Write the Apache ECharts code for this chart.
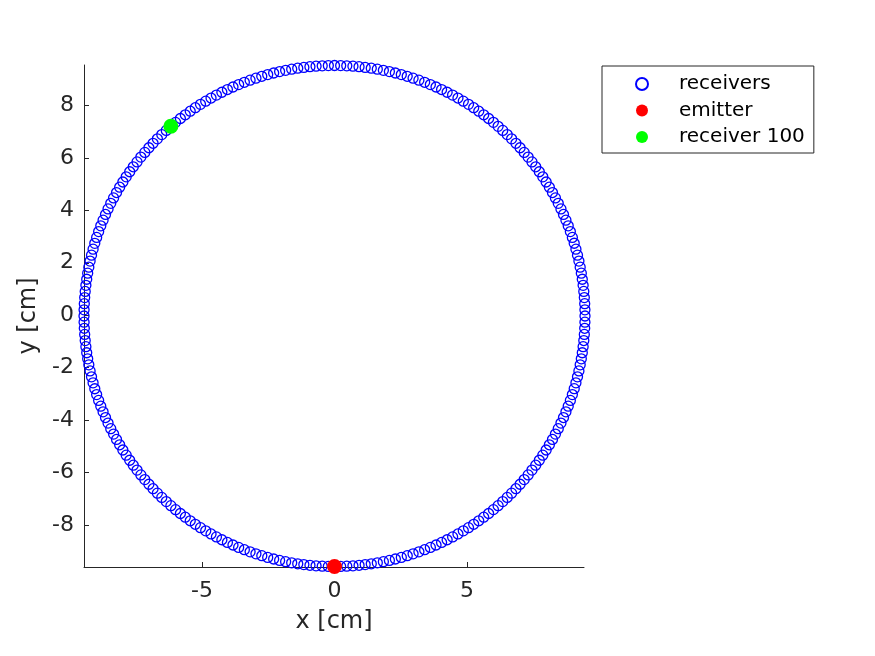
<!DOCTYPE html>
<html>
<head>
<meta charset="utf-8">
<script src="https://cdn.jsdelivr.net/npm/echarts@6/dist/echarts.min.js"></script>
<style>
  html, body { margin: 0; padding: 0; background: #fff; }
  #chart { width: 875px; height: 656px; }
</style>
</head>
<body>
<div id="chart"></div>
<script>
// receiver ring: radius in cm, angle in degrees (0 = +x, counter-clockwise)
const receiverRadius = 9.5;
const receiverAngles = [
  0, 1.41, 2.81, 4.22, 5.63, 7.03, 8.44, 9.84,
  11.25, 12.66, 14.06, 15.47, 16.88, 18.28, 19.69, 21.09,
  22.5, 23.91, 25.31, 26.72, 28.13, 29.53, 30.94, 32.34,
  33.75, 35.16, 36.56, 37.97, 39.38, 40.78, 42.19, 43.59,
  45, 46.41, 47.81, 49.22, 50.63, 52.03, 53.44, 54.84,
  56.25, 57.66, 59.06, 60.47, 61.88, 63.28, 64.69, 66.09,
  67.5, 68.91, 70.31, 71.72, 73.13, 74.53, 75.94, 77.34,
  78.75, 80.16, 81.56, 82.97, 84.38, 85.78, 87.19, 88.59,
  90, 91.41, 92.81, 94.22, 95.63, 97.03, 98.44, 99.84,
  101.25, 102.66, 104.06, 105.47, 106.88, 108.28, 109.69, 111.09,
  112.5, 113.91, 115.31, 116.72, 118.13, 119.53, 120.94, 122.34,
  123.75, 125.16, 126.56, 127.97, 129.38, 130.78, 132.19, 133.59,
  135, 136.41, 137.81, 139.22, 140.63, 142.03, 143.44, 144.84,
  146.25, 147.66, 149.06, 150.47, 151.88, 153.28, 154.69, 156.09,
  157.5, 158.91, 160.31, 161.72, 163.13, 164.53, 165.94, 167.34,
  168.75, 170.16, 171.56, 172.97, 174.38, 175.78, 177.19, 178.59,
  180, 181.41, 182.81, 184.22, 185.63, 187.03, 188.44, 189.84,
  191.25, 192.66, 194.06, 195.47, 196.88, 198.28, 199.69, 201.09,
  202.5, 203.91, 205.31, 206.72, 208.13, 209.53, 210.94, 212.34,
  213.75, 215.16, 216.56, 217.97, 219.38, 220.78, 222.19, 223.59,
  225, 226.41, 227.81, 229.22, 230.63, 232.03, 233.44, 234.84,
  236.25, 237.66, 239.06, 240.47, 241.88, 243.28, 244.69, 246.09,
  247.5, 248.91, 250.31, 251.72, 253.13, 254.53, 255.94, 257.34,
  258.75, 260.16, 261.56, 262.97, 264.38, 265.78, 267.19, 268.59,
  270, 271.41, 272.81, 274.22, 275.63, 277.03, 278.44, 279.84,
  281.25, 282.66, 284.06, 285.47, 286.88, 288.28, 289.69, 291.09,
  292.5, 293.91, 295.31, 296.72, 298.13, 299.53, 300.94, 302.34,
  303.75, 305.16, 306.56, 307.97, 309.38, 310.78, 312.19, 313.59,
  315, 316.41, 317.81, 319.22, 320.63, 322.03, 323.44, 324.84,
  326.25, 327.66, 329.06, 330.47, 331.88, 333.28, 334.69, 336.09,
  337.5, 338.91, 340.31, 341.72, 343.13, 344.53, 345.94, 347.34,
  348.75, 350.16, 351.56, 352.97, 354.38, 355.78, 357.19, 358.59
];
const emitterPoint = [9.5, 270];
const receiver100Point = [9.5, 130.78];

const xTicks = [-5, 0, 5];
const yTicks = [-8, -6, -4, -2, 0, 2, 4, 6, 8];
const seriesNames = ['receivers', 'emitter', 'receiver 100'];

const axisColor = '#262626';
const font = 'DejaVu Sans';

const myChart = echarts.init(document.getElementById('chart'), null, { renderer: 'canvas' });

const option = {
  animation: false,
  textStyle: { fontFamily: font },
  grid: {
    left: 84,
    top: 65,
    right: 291,
    bottom: 89,
    containLabel: false,
    outerBoundsMode: 'none'
  },
  xAxis: {
    type: 'value',
    min: -9.45,
    max: 9.42,
    name: 'x [cm]',
    nameLocation: 'middle',
    nameGap: 43,
    nameTextStyle: { fontSize: 24, color: axisColor, fontFamily: font },
    axisLine: { show: true, onZero: false, lineStyle: { color: axisColor, width: 1 } },
    axisTick: { show: true, inside: true, length: 5, customValues: xTicks, lineStyle: { color: axisColor } },
    axisLabel: { customValues: xTicks, fontSize: 22, color: axisColor, margin: 13, fontFamily: font },
    splitLine: { show: false }
  },
  yAxis: {
    type: 'value',
    min: -9.6,
    max: 9.54,
    name: 'y [cm]',
    nameLocation: 'middle',
    nameGap: 36,
    nameTextStyle: { fontSize: 24, color: axisColor, fontFamily: font },
    axisLine: { show: true, onZero: false, lineStyle: { color: axisColor, width: 1 } },
    axisTick: { show: true, inside: true, length: 5, customValues: yTicks, lineStyle: { color: axisColor } },
    axisLabel: { customValues: yTicks, fontSize: 22, color: axisColor, margin: 10, fontFamily: font },
    splitLine: { show: false }
  },
  polar: {
    center: [334.5, 316],
    radius: 250.5
  },
  angleAxis: {
    type: 'value',
    min: 0,
    max: 360,
    startAngle: 0,
    clockwise: false,
    show: false
  },
  radiusAxis: {
    type: 'value',
    min: 0,
    max: 9.5,
    show: false
  },
  legend: {
    data: seriesNames,
    orient: 'vertical',
    left: 602,
    top: 66,
    padding: [8, 9, 6, 33],
    itemGap: 6.5,
    itemWidth: 12,
    itemHeight: 12,
    borderColor: axisColor,
    borderWidth: 1,
    textStyle: { fontSize: 20, color: '#000', fontFamily: font, lineHeight: 20, padding: [0, 0, 0, 26] }
  },
  series: [
    {
      name: seriesNames[0],
      type: 'scatter',
      coordinateSystem: 'polar',
      symbol: 'circle',
      symbolSize: 10,
      itemStyle: { color: 'transparent', borderColor: '#0000ff', borderWidth: 1.3, opacity: 1 },
      data: receiverAngles.map(a => [receiverRadius, a])
    },
    {
      name: seriesNames[1],
      type: 'scatter',
      coordinateSystem: 'polar',
      symbol: 'circle',
      symbolSize: 15,
      itemStyle: { color: '#ff0000', opacity: 1 },
      data: [emitterPoint]
    },
    {
      name: seriesNames[2],
      type: 'scatter',
      coordinateSystem: 'polar',
      symbol: 'circle',
      symbolSize: 15,
      itemStyle: { color: '#00ff00', opacity: 1 },
      data: [receiver100Point]
    }
  ]
};

myChart.setOption(option);
</script>
</body>
</html>
